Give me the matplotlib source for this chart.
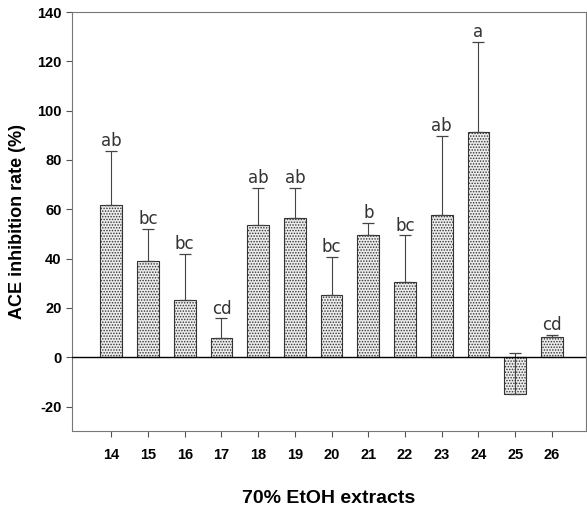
import matplotlib
matplotlib.use("Agg")
import matplotlib.pyplot as plt

samples = [14, 15, 16, 17, 18, 19, 20, 21, 22, 23, 24, 25, 26]
values = [61.8, 39.2, 23.2, 7.8, 53.7, 56.4, 25.3, 49.6, 30.4, 57.7, 91.3, -14.9, 8.0]
err_up = [21.9, 12.8, 18.8, 8.0, 15.1, 12.4, 15.5, 5.0, 19.0, 32.1, 36.7, 16.6, 1.0]
letters = ["ab", "bc", "bc", "cd", "ab", "ab", "bc", "b", "bc", "ab", "a", "", "cd"]
yticks = [-20, 0, 20, 40, 60, 80, 100, 120, 140]

plt.rcParams['hatch.color'] = '#8a8a8a'
plt.rcParams['hatch.linewidth'] = 0.7
plt.rcParams['axes.unicode_minus'] = False

fig = plt.figure(figsize=(5.87, 5.22), dpi=100)
ax = fig.add_axes([0.1227, 0.174, 0.875, 0.803])

bars = ax.bar(samples, values, width=0.59, facecolor='#ececec', edgecolor='#333333',
              linewidth=0.8, hatch='......', zorder=2)
ax.errorbar(samples, values, yerr=[[0]*len(values), err_up], fmt='none',
            ecolor='#444444', elinewidth=0.8, capsize=4, capthick=0.9, zorder=3)
for x, v, e, t in zip(samples, values, err_up, letters):
    if t:
        ax.text(x, v + e + 0.3, t, ha='center', va='bottom', fontsize=12,
                family='Liberation Sans Narrow', color='#333333')

ax.axhline(0, color='black', linewidth=1.0, zorder=4)
ax.set_xlim(12.93, 26.92)
ax.set_ylim(-30, 140)
ax.set_yticks(yticks)
ax.set_xticks(samples)
ax.set_xticklabels([str(s) for s in samples])
for s in ax.spines.values():
    s.set_color('#777777')
    s.set_linewidth(0.8)
ax.tick_params(axis='both', direction='out', length=4, width=0.8, color='#555555')
for lab in ax.get_xticklabels() + ax.get_yticklabels():
    lab.set_fontweight('bold')
    lab.set_fontsize(10.5)
    lab.set_family('Liberation Sans')
ax.tick_params(axis='x', pad=8)
ax.set_ylabel('ACE inhibition rate (%)', fontsize=13, fontweight='bold',
              family='Liberation Sans', labelpad=8)
ax.set_xlabel('70% EtOH extracts', fontsize=14, fontweight='bold',
              family='Liberation Sans', labelpad=20)

fig.savefig('out.png', dpi=100)
